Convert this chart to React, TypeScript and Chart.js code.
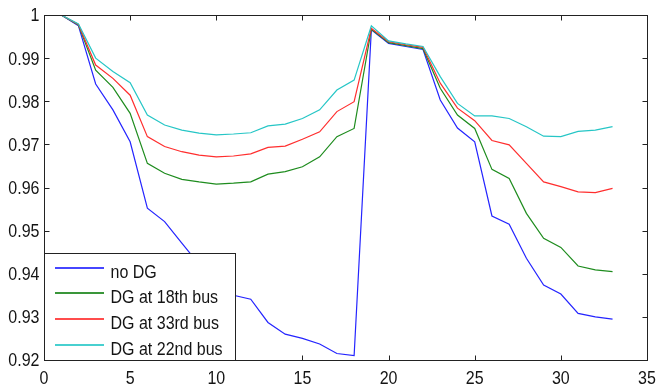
import React, { useEffect, useRef } from "react";
import { Chart, registerables } from "chart.js";

Chart.register(...registerables);

const buses = [1, 2, 3, 4, 5, 6, 7, 8, 9, 10, 11, 12, 13, 14, 15, 16, 17, 18, 19, 20, 21, 22, 23, 24, 25, 26, 27, 28, 29, 30, 31, 32, 33];

const noDG = [1.0, 0.9975, 0.984, 0.978, 0.9706, 0.9552, 0.9521, 0.9471, 0.9422, 0.9385, 0.935, 0.9341, 0.9287, 0.926, 0.925, 0.9237, 0.9215, 0.921, 0.9966, 0.9934, 0.9927, 0.992, 0.9803, 0.9738, 0.9706, 0.9534, 0.9515, 0.9436, 0.9374, 0.9353, 0.9308, 0.93, 0.9295];
const dg18 = [1.0, 0.9977, 0.9872, 0.9832, 0.9772, 0.9656, 0.9633, 0.9619, 0.9613, 0.9608, 0.961, 0.9613, 0.9631, 0.9637, 0.9648, 0.9671, 0.9718, 0.9737, 0.9967, 0.9936, 0.9929, 0.9922, 0.983, 0.9768, 0.9737, 0.9642, 0.9621, 0.954, 0.9482, 0.9461, 0.9418, 0.9409, 0.9405];
const dg33 = [1.0, 0.9978, 0.9884, 0.9853, 0.9814, 0.9718, 0.9695, 0.9683, 0.9675, 0.9671, 0.9673, 0.9678, 0.9693, 0.9696, 0.9712, 0.9729, 0.9776, 0.9799, 0.9969, 0.9938, 0.9931, 0.9925, 0.9842, 0.9784, 0.9755, 0.9709, 0.9699, 0.9656, 0.9613, 0.9602, 0.959, 0.9588, 0.9598];
const dg22 = [1.0, 0.9979, 0.99, 0.9869, 0.9843, 0.9768, 0.9745, 0.9733, 0.9726, 0.9722, 0.9724, 0.9727, 0.9743, 0.9747, 0.976, 0.978, 0.9826, 0.9849, 0.9975, 0.994, 0.9933, 0.9927, 0.9857, 0.9795, 0.9766, 0.9766, 0.976, 0.9741, 0.9719, 0.9718, 0.973, 0.9733, 0.9741];

const seriesNames = ["no DG", "DG at 18th bus", "DG at 33rd bus", "DG at 22nd bus"];
const seriesColors = ["#2424ff", "#1e8c1e", "#ff2e2e", "#26c6c6"];
const legendColors = ["#4646ff", "#3a963a", "#ff4c4c", "#48d0d0"];

const xTicks = [0, 5, 10, 15, 20, 25, 30, 35];
const xTickLabels = ["0", "5", "10", "15", "20", "25", "30", "35"];
const yTicks = [0.92, 0.93, 0.94, 0.95, 0.96, 0.97, 0.98, 0.99, 1];
const yTickLabels = ["0.92", "0.93", "0.94", "0.95", "0.96", "0.97", "0.98", "0.99", "1"];

const FONT = "Liberation Sans, Arial, sans-serif";
const AXIS = "#222222";
const TEXT = "#141414";
const VSTRETCH = 1.13;

function stretchedText(ctx: any, text: string, x: number, baselineY: number, align: string) {
  ctx.save();
  ctx.translate(x, baselineY);
  ctx.scale(1, VSTRETCH);
  ctx.textAlign = align;
  ctx.textBaseline = "alphabetic";
  ctx.fillText(text, 0, 0);
  ctx.restore();
}

const boxPlugin = {
  id: "matlabBox",
  afterDatasetsDraw(chart: any) {
    const { ctx, chartArea: a, scales } = chart;
    const L = Math.round(a.left) + 0.5;
    const R = Math.round(a.right) + 0.5;
    const T = Math.round(a.top) + 0.5;
    const B = Math.round(a.bottom) + 0.5;
    ctx.save();
    ctx.strokeStyle = AXIS;
    ctx.lineWidth = 1;
    ctx.beginPath();
    const tl = 5;
    for (const v of xTicks) {
      const x = Math.round(scales.x.getPixelForValue(v)) + 0.5;
      ctx.moveTo(x, B);
      ctx.lineTo(x, B - tl);
      ctx.moveTo(x, T);
      ctx.lineTo(x, T + tl);
    }
    for (const v of yTicks) {
      const y = Math.round(scales.y.getPixelForValue(v)) + 0.5;
      ctx.moveTo(L, y);
      ctx.lineTo(L + tl, y);
      ctx.moveTo(R, y);
      ctx.lineTo(R - tl, y);
    }
    ctx.stroke();
    ctx.strokeRect(L, T, R - L, B - T);

    // tick labels
    ctx.fillStyle = TEXT;
    ctx.font = `16px ${FONT}`;
    const digitHalf = (0.716 * 16 * VSTRETCH) / 2;
    xTicks.forEach((v, i) => {
      const x = scales.x.getPixelForValue(v);
      stretchedText(ctx, xTickLabels[i], x, 377.5 + digitHalf, "center");
    });
    yTicks.forEach((v, i) => {
      const y = scales.y.getPixelForValue(v);
      stretchedText(ctx, yTickLabels[i], L - 5, y + digitHalf, "right");
    });

    // legend box (bottom-left, inside axes)
    const lw = 191;
    const lh = 107;
    const lx = L;
    const ly = B - lh;
    ctx.fillStyle = "#ffffff";
    ctx.fillRect(lx, ly, lw, lh);
    ctx.strokeStyle = AXIS;
    ctx.lineWidth = 1;
    ctx.strokeRect(lx, ly, lw, lh);
    for (let i = 0; i < seriesNames.length; i++) {
      const y = Math.round(ly + 13 + i * 25.8);
      ctx.fillStyle = legendColors[i];
      ctx.fillRect(Math.round(lx) + 10, y, 49, 2);
    }
    ctx.fillStyle = TEXT;
    for (let i = 0; i < seriesNames.length; i++) {
      const y = Math.round(ly + 13 + i * 25.8);
      stretchedText(ctx, seriesNames[i], lx + 66, y + 4.3 + digitHalf, "left");
    }
    ctx.restore();
  },
};

export default function App() {
  const ref = useRef<HTMLCanvasElement | null>(null);
  useEffect(() => {
    document.body.style.margin = "0";
    const seriesData = [noDG, dg18, dg33, dg22];
    const chart = new Chart(ref.current as HTMLCanvasElement, {
      type: "line",
      data: {
        datasets: seriesData.map((arr, i) => ({
          label: seriesNames[i],
          data: buses.map((b, j) => ({ x: b, y: arr[j] })),
          borderColor: seriesColors[i],
          borderWidth: 1.2,
          pointRadius: 0,
          fill: false,
          tension: 0,
          order: 4 - i,
        })),
      },
      options: {
        responsive: false,
        animation: false,
        layout: { padding: { top: 15, right: 9, left: 0, bottom: 0 } },
        plugins: { legend: { display: false }, tooltip: { enabled: false } },
        scales: {
          x: {
            type: "linear",
            min: 0,
            max: 35,
            grid: { display: false, drawTicks: false },
            border: { display: false },
            afterBuildTicks: (s: any) => {
              s.ticks = xTicks.map((v) => ({ value: v }));
            },
            afterFit: (s: any) => {
              s.height = 27;
            },
            ticks: { display: false },
          },
          y: {
            type: "linear",
            min: 0.92,
            max: 1,
            grid: { display: false, drawTicks: false },
            border: { display: false },
            afterBuildTicks: (s: any) => {
              s.ticks = yTicks.map((v) => ({ value: v }));
            },
            afterFit: (s: any) => {
              s.width = 44;
            },
            ticks: { display: false },
          },
        },
      },
      plugins: [boxPlugin],
    } as any);
    return () => chart.destroy();
  }, []);
  return (
    <div style={{ width: 656, height: 387, background: "#fff" }}>
      <canvas ref={ref} width={656} height={387} style={{ display: "block" }} />
    </div>
  );
}
